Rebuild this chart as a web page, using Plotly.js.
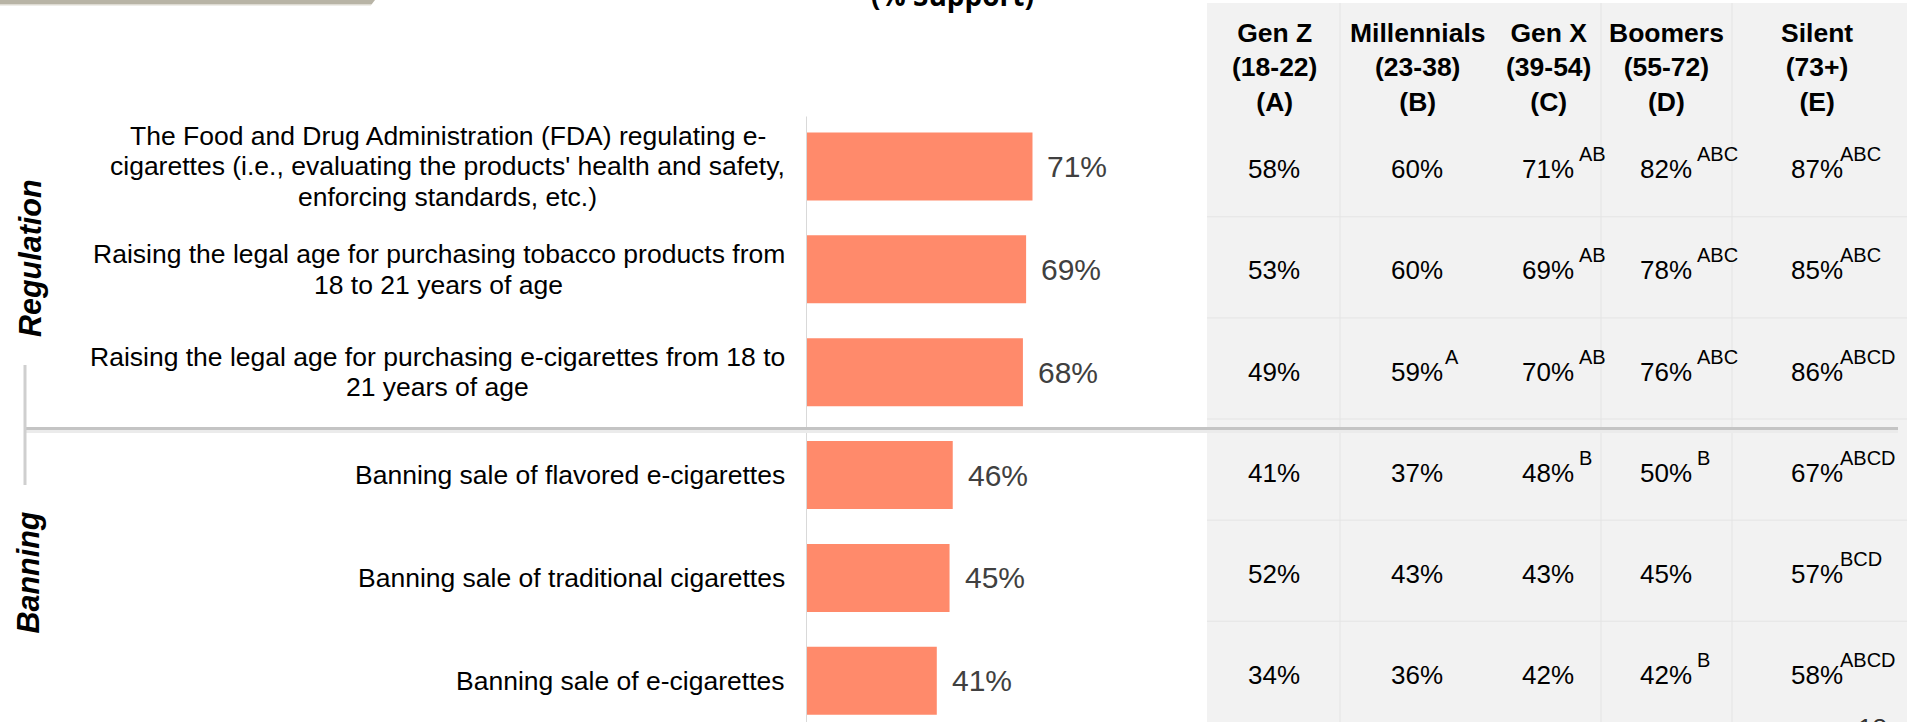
<!DOCTYPE html>
<html><head><meta charset="utf-8">
<script src="https://cdn.plot.ly/plotly-3.0.1.min.js"></script>
<style>html,body{margin:0;padding:0;background:#fff;overflow:hidden}#chart{width:1907px;height:722px}</style>
</head><body><div id="chart"></div>
<script>
// ---------------- DATA ----------------
const items = [
  "The Food and Drug Administration (FDA) regulating e-<br>cigarettes (i.e., evaluating the products' health and safety,<br>enforcing standards, etc.)",
  "Raising the legal age for purchasing tobacco products from<br>18 to 21 years of age",
  "Raising the legal age for purchasing e-cigarettes from 18 to<br>21 years of age",
  "Banning sale of flavored e-cigarettes",
  "Banning sale of traditional cigarettes",
  "Banning sale of e-cigarettes"
];
const support = [71, 69, 68, 46, 45, 41];
const groupNames = ["Regulation", "Banning"];
const chartTitle = "(% Support)";
const pageNumber = "18";

const genNames   = ["Gen Z", "Millennials", "Gen X", "Boomers", "Silent"];
const genAges    = ["(18-22)", "(23-38)", "(39-54)", "(55-72)", "(73+)"];
const genLetters = ["(A)", "(B)", "(C)", "(D)", "(E)"];

const genZ        = [58, 53, 49, 41, 52, 34];
const millennials = [60, 60, 59, 37, 43, 36];
const genX        = [71, 69, 70, 48, 43, 42];
const boomers     = [82, 78, 76, 50, 45, 42];
const silent      = [87, 85, 86, 67, 57, 58];

const genZSig        = ["", "", "", "", "", ""];
const millennialsSig = ["", "", "A", "", "", ""];
const genXSig        = ["AB", "AB", "AB", "B", "", ""];
const boomersSig     = ["ABC", "ABC", "ABC", "B", "", "B"];
const silentSig      = ["ABC", "ABC", "ABCD", "ABCD", "BCD", "ABCD"];

// ---------------- LAYOUT HELPERS ----------------
const W = 1907, H = 722;
const X = p => p / W;
const Y = p => 1 - p / H;
const FONT = "Liberation Sans, Arial, sans-serif";

const genValues = [genZ, millennials, genX, boomers, silent];
const genSigs = [genZSig, millennialsSig, genXSig, boomersSig, silentSig];
const colX = [1274, 1417, 1548, 1666, 1817];       // column centres (px)
const supOffset = [26, 25.5, 29, 29, 21];           // superscript offset (px)

const barLeft = 806, panelLeft = 1207, pxPerPct = 3.19;

// ---------------- TRACES ----------------
const traces = [
  {
    type: "bar", orientation: "h",
    x: support, y: items,
    marker: {color: "#FF8A6B", line: {width: 0}},
    width: 0.661,
    hoverinfo: "skip", showlegend: false
  },
  { // anchor trace for the table row axis
    type: "scatter", mode: "markers", x: [0], y: [0], yaxis: "y2",
    marker: {opacity: 0, size: 1}, hoverinfo: "skip", showlegend: false
  }
];

// ---------------- ANNOTATIONS ----------------
const annotations = [];
const ctx = document.createElement("canvas").getContext("2d");
const labelSize = 26.5;
ctx.font = labelSize + "px 'Liberation Sans'";
const labelRight = 785, lineGap = 30.5;

items.forEach((txt, i) => {
  const lines = txt.split("<br>");
  const maxW = Math.max(...lines.map(l => ctx.measureText(l).width));
  const cx = labelRight - maxW / 2;
  const n = lines.length;
  lines.forEach((l, k) => {
    annotations.push({
      xref: "paper", yref: "y", x: X(cx), y: i,
      xanchor: "center", yanchor: "middle",
      yshift: ((n - 1) / 2 - k) * lineGap,
      text: l, showarrow: false,
      font: {family: FONT, size: labelSize, color: "#000"}
    });
  });
  annotations.push({
    xref: "x", yref: "y", x: support[i], y: i,
    xanchor: "left", yanchor: "middle", xshift: 13,
    text: support[i] + "%", showarrow: false,
    font: {family: FONT, size: 30, color: "#404040"}
  });
});

// group labels
annotations.push({
  xref: "paper", yref: "paper", x: X(31), y: Y(258), textangle: -90,
  xanchor: "center", yanchor: "middle", text: "<b><i>" + groupNames[0] + "</i></b>", showarrow: false,
  font: {family: FONT, size: 30.5, color: "#000", weight: "bold", style: "italic"}
});
annotations.push({
  xref: "paper", yref: "paper", x: X(28), y: Y(572.5), textangle: -90,
  xanchor: "center", yanchor: "middle", text: "<b><i>" + groupNames[1] + "</i></b>", showarrow: false,
  font: {family: FONT, size: 30.5, color: "#000", weight: "bold", style: "italic"}
});

// title (mostly cut off at the top edge)
annotations.push({
  xref: "paper", yref: "paper", x: X(952), y: Y(16), xanchor: "center", yanchor: "bottom",
  text: chartTitle, showarrow: false,
  font: {family: "Open Sans, sans-serif", size: 28, color: "#000", weight: "bold"}
});

// table headers
genNames.forEach((g, c) => {
  annotations.push({
    xref: "paper", yref: "paper", x: X(colX[c]), y: Y(67.3),
    xanchor: "center", yanchor: "middle", align: "center",
    text: g + "<br>" + genAges[c] + "<br>" + genLetters[c], showarrow: false,
    font: {family: FONT, size: 26.5, color: "#000", weight: "bold"}
  });
});

// table values + significance letters
genValues.forEach((vals, c) => {
  vals.forEach((v, r) => {
    annotations.push({
      xref: "paper", yref: "y2", x: X(colX[c]), y: r,
      xanchor: "center", yanchor: "middle",
      text: v + "%", showarrow: false,
      font: {family: FONT, size: 26, color: "#000"}
    });
    const s = genSigs[c][r];
    if (s) {
      annotations.push({
        xref: "paper", yref: "y2", x: X(colX[c] + supOffset[c]), y: r,
        xanchor: "left", yanchor: "middle", yshift: 15,
        text: s, showarrow: false,
        font: {family: FONT, size: 20, color: "#000"}
      });
    }
  });
});

// page number (cut off at bottom)
annotations.push({
  xref: "paper", yref: "paper", x: X(1872), y: Y(711), xanchor: "center", yanchor: "top",
  text: pageNumber, showarrow: false,
  font: {family: FONT, size: 26, color: "#333"}
});

// ---------------- SHAPES ----------------
const shapes = [];
// grey table panel
shapes.push({type: "rect", xref: "paper", yref: "paper", x0: X(panelLeft), x1: 1, y0: 0, y1: Y(3),
  fillcolor: "#f2f2f2", line: {width: 0}, layer: "below"});
// column dividers
[1340, 1601, 1732].forEach(px => shapes.push({type: "line", xref: "paper", yref: "paper",
  x0: X(px), x1: X(px), y0: 0, y1: Y(3), line: {color: "#e4e4e4", width: 1}, layer: "below"}));
// row dividers
for (let r = 0; r < 5; r++) {
  shapes.push({type: "line", xref: "paper", yref: "y2", x0: X(panelLeft), x1: 1,
    y0: r + 0.47, y1: r + 0.47, line: {color: "#e4e4e4", width: 1}, layer: "below"});
}
// top-left band
shapes.push({type: "path", xref: "paper", yref: "paper",
  path: `M0,${Y(0)} L${X(375)},${Y(0)} L${X(371.5)},${Y(4.5)} L0,${Y(4.5)} Z`,
  fillcolor: "#b8b4a6", line: {width: 0}});
shapes.push({type: "line", xref: "paper", yref: "paper", x0: 0, x1: X(371), y0: Y(5), y1: Y(5),
  line: {color: "#dedbd2", width: 1}});
// bar axis line
shapes.push({type: "line", xref: "x", yref: "paper", x0: 0, x1: 0, y0: 0, y1: Y(116.6),
  line: {color: "#d9d9d9", width: 2}});
// group separator with shadow
shapes.push({type: "line", xref: "paper", yref: "paper", x0: X(26), x1: X(1898), y0: Y(431.5), y1: Y(431.5),
  line: {color: "#ebebeb", width: 3}});
shapes.push({type: "line", xref: "paper", yref: "paper", x0: X(25), x1: X(1898), y0: Y(428.5), y1: Y(428.5),
  line: {color: "#c4c4c4", width: 3}});
// vertical bracket
shapes.push({type: "line", xref: "paper", yref: "paper", x0: X(25), x1: X(25), y0: Y(365), y1: Y(485),
  line: {color: "#cfcfcf", width: 3}});

// ---------------- LAYOUT ----------------
const layout = {
  width: W, height: H,
  margin: {l: 0, r: 0, t: 0, b: 0, pad: 0},
  paper_bgcolor: "#ffffff", plot_bgcolor: "rgba(0,0,0,0)",
  showlegend: false,
  xaxis: {domain: [X(barLeft), X(panelLeft)], range: [0, (panelLeft - barLeft) / pxPerPct],
    showgrid: false, zeroline: false, showline: false, showticklabels: false, ticks: "", fixedrange: true},
  yaxis: {type: "category", categoryorder: "array", categoryarray: items,
    domain: [0, 1], range: [5.401, -1.618],
    showgrid: false, zeroline: false, showline: false, showticklabels: false, ticks: "", fixedrange: true},
  yaxis2: {overlaying: "y", anchor: "x", range: [5.4668, -1.6746], visible: false,
    showgrid: false, zeroline: false, showticklabels: false, fixedrange: true},
  annotations: annotations,
  shapes: shapes
};

Plotly.newPlot("chart", traces, layout, {staticPlot: true, displayModeBar: false});
</script>
</body></html>
